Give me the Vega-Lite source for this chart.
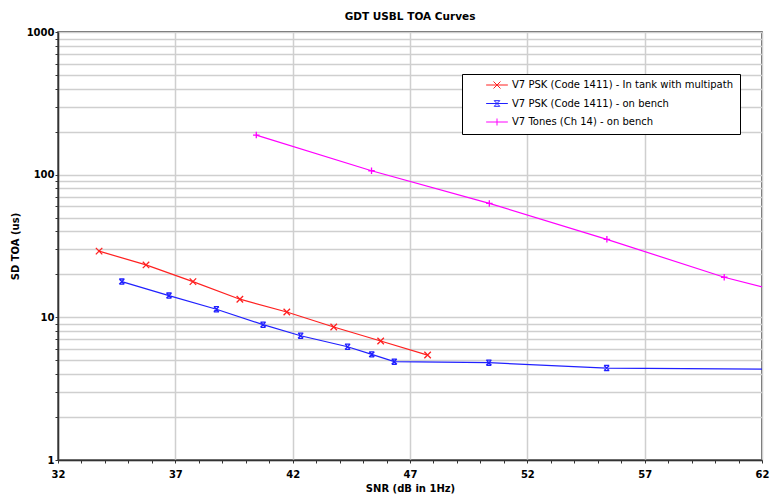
{
  "$schema": "https://vega.github.io/schema/vega-lite/v6.json",
  "autosize": {"type": "none"},
  "padding": {"left": 58, "top": 32, "right": 8, "bottom": 39},
  "width": 704,
  "height": 428,
  "background": "white",
  "title": {"text": "GDT USBL TOA Curves", "fontSize": 10.5, "font": "DejaVu Sans", "fontWeight": "bold", "color": "#000", "offset": 5, "anchor": "middle"},
  "config": {
    "view": {"stroke": "#333", "strokeWidth": 1.5},
    "axis": {"labelFont": "DejaVu Sans", "titleFont": "DejaVu Sans", "labelColor": "#000", "titleColor": "#000", "domainColor": "#333", "domainWidth": 1.5, "tickColor": "#333", "gridColor": "#cfcfcf", "gridWidth": 1.5, "labelFontWeight": "bold", "titleFontWeight": "bold", "labelFontSize": 10, "titleFontSize": 10}
  },
  "data": {"values": [
    {"s": "V7 PSK (Code 1411) - In tank with multipath", "snr": 33.75, "sd": 29.1},
    {"s": "V7 PSK (Code 1411) - In tank with multipath", "snr": 35.75, "sd": 23.3},
    {"s": "V7 PSK (Code 1411) - In tank with multipath", "snr": 37.75, "sd": 17.8},
    {"s": "V7 PSK (Code 1411) - In tank with multipath", "snr": 39.75, "sd": 13.4},
    {"s": "V7 PSK (Code 1411) - In tank with multipath", "snr": 41.75, "sd": 10.9},
    {"s": "V7 PSK (Code 1411) - In tank with multipath", "snr": 43.75, "sd": 8.55},
    {"s": "V7 PSK (Code 1411) - In tank with multipath", "snr": 45.75, "sd": 6.82},
    {"s": "V7 PSK (Code 1411) - In tank with multipath", "snr": 47.75, "sd": 5.44},
    {"s": "V7 PSK (Code 1411) - on bench", "snr": 34.72, "sd": 17.8},
    {"s": "V7 PSK (Code 1411) - on bench", "snr": 36.73, "sd": 14.2},
    {"s": "V7 PSK (Code 1411) - on bench", "snr": 38.75, "sd": 11.4},
    {"s": "V7 PSK (Code 1411) - on bench", "snr": 40.74, "sd": 8.88},
    {"s": "V7 PSK (Code 1411) - on bench", "snr": 42.34, "sd": 7.43},
    {"s": "V7 PSK (Code 1411) - on bench", "snr": 44.34, "sd": 6.22},
    {"s": "V7 PSK (Code 1411) - on bench", "snr": 45.37, "sd": 5.5},
    {"s": "V7 PSK (Code 1411) - on bench", "snr": 46.33, "sd": 4.89},
    {"s": "V7 PSK (Code 1411) - on bench", "snr": 50.36, "sd": 4.81},
    {"s": "V7 PSK (Code 1411) - on bench", "snr": 55.38, "sd": 4.41},
    {"s": "V7 PSK (Code 1411) - on bench", "snr": 65.4, "sd": 4.3},
    {"s": "V7 Tones (Ch 14) - on bench", "snr": 40.45, "sd": 189.5},
    {"s": "V7 Tones (Ch 14) - on bench", "snr": 45.36, "sd": 106.5},
    {"s": "V7 Tones (Ch 14) - on bench", "snr": 50.38, "sd": 62.9},
    {"s": "V7 Tones (Ch 14) - on bench", "snr": 55.39, "sd": 35.2},
    {"s": "V7 Tones (Ch 14) - on bench", "snr": 60.39, "sd": 19.1},
    {"s": "V7 Tones (Ch 14) - on bench", "snr": 65.4, "sd": 11.8}
  ]},
  "encoding": {
    "x": {"field": "snr", "type": "quantitative",
      "scale": {"domain": [32, 62], "nice": false, "zero": false},
      "axis": {"title": "SNR (dB in 1Hz)", "values": [32,33,34,35,36,37,38,39,40,41,42,43,44,45,46,47,48,49,50,51,52,53,54,55,56,57,58,59,60,61,62],
        "labelExpr": "(datum.value - 32) % 5 == 0 ? datum.label : ''",
        "gridOpacity": {"condition": {"test": "(datum.value - 32) % 5 == 0", "value": 1}, "value": 0},
        "tickSize": 3, "labelPadding": 6, "titlePadding": 4, "labelFlush": false, "labelOverlap": false}},
    "y": {"field": "sd", "type": "quantitative",
      "scale": {"type": "log", "domain": [1, 1000], "nice": false},
      "axis": {"title": "SD TOA (us)", "format": "d", "values": [1,2,3,4,5,6,7,8,9,10,20,30,40,50,60,70,80,90,100,200,300,400,500,600,700,800,900,1000],
        "labelExpr": "(datum.value == 1 || datum.value == 10 || datum.value == 100 || datum.value == 1000) ? datum.label : ''",
        "tickSize": 3, "labelPadding": 1, "titlePadding": 6, "labelOverlap": false}},
    "color": {"field": "s", "type": "nominal",
      "scale": {"domain": ["V7 PSK (Code 1411) - In tank with multipath", "V7 PSK (Code 1411) - on bench", "V7 Tones (Ch 14) - on bench"], "range": ["#ff2020", "#2020ff", "#ff00ff"]},
      "legend": {"title": null, "orient": "none", "legendX": 404, "legendY": 42, "strokeColor": "#000", "fillColor": "white", "padding": 6,
        "labelFont": "DejaVu Sans", "labelFontSize": 10, "labelColor": "#000", "symbolSize": 49, "symbolStrokeWidth": 1, "symbolOffset": 24, "rowPadding": 7.5, "labelOffset": 10, "labelLimit": 400,
        "labelExpr": "datum.label + '\u2003\u2003'",
        "encode": {"symbols": {"update": {"shape": {"signal": "datum.value == 'V7 PSK (Code 1411) - In tank with multipath' ? 'M-3.1,0L3.1,0M-1,-1L1,1M-1,1L1,-1' : datum.value == 'V7 PSK (Code 1411) - on bench' ? 'M-3.1,0L3.1,0M-0.8,-0.8L0.8,0.8M-0.8,0.8L0.8,-0.8M-0.8,-0.8L0.8,-0.8M-0.8,0.8L0.8,0.8' : 'M-3.1,0L3.1,0M0,-1L0,1'"}}}}}}
  },
  "layer": [
    {"mark": {"type": "line", "strokeWidth": 1.2, "clip": true}},
    {"transform": [{"filter": "datum.s == 'V7 PSK (Code 1411) - In tank with multipath'"}],
      "mark": {"type": "point", "filled": false, "strokeWidth": 1.3, "size": 42, "opacity": 1, "clip": true, "shape": "M-1,-1L1,1M-1,1L1,-1"}},
    {"transform": [{"filter": "datum.s == 'V7 PSK (Code 1411) - on bench'"}],
      "mark": {"type": "point", "filled": false, "strokeWidth": 1.3, "size": 42, "opacity": 1, "clip": true, "shape": "M-0.8,-0.8L0.8,0.8M-0.8,0.8L0.8,-0.8M-0.8,-0.8L0.8,-0.8M-0.8,0.8L0.8,0.8"}},
    {"transform": [{"filter": "datum.s == 'V7 Tones (Ch 14) - on bench'"}],
      "mark": {"type": "point", "filled": false, "strokeWidth": 1.3, "size": 42, "opacity": 1, "clip": true, "shape": "M-1,0L1,0M0,-1L0,1"}}
  ]
}
